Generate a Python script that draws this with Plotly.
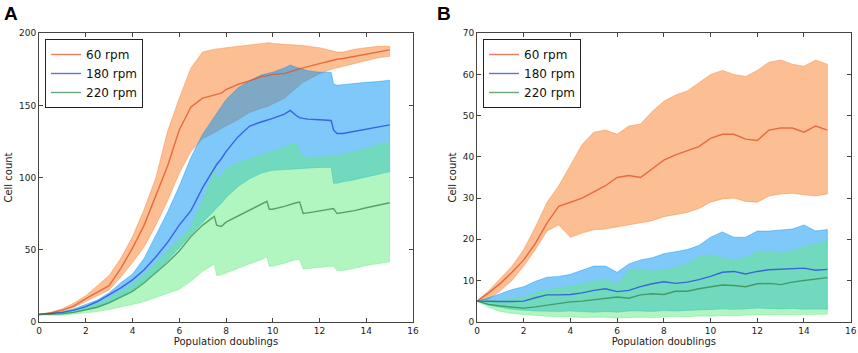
import plotly.graph_objects as go

# ---------------- Panel A data ----------------
xA = [0, 0.5, 1, 1.5, 2, 2.5, 3, 3.5, 4, 4.5, 5, 5.5, 6, 6.5, 7, 7.5, 7.6, 7.8, 8, 8.5,
      9, 9.5, 9.75, 9.85, 10, 10.5, 10.75, 11, 11.15, 11.3, 11.5, 12, 12.5, 12.6, 12.75, 13,
      13.5, 14, 14.5, 15]

a60_mean = [5, 6, 8, 11, 16, 20.5, 25, 37, 51, 67, 87, 108, 133, 149, 155, 157, 157.5, 158.5, 161, 164.5,
            167, 170, 170.5, 171, 171.5, 172, 173.5, 175, 175.5, 176, 177, 179, 181, 181.5, 182, 182.5,
            184, 186, 187.5, 188.5]
a60_hi = [5, 6.5, 9, 13, 18, 25, 32, 44, 59, 78, 100, 132, 155, 176, 187, 189, 189, 189.5, 190, 191,
          192, 193, 193.5, 193.5, 193, 192.5, 192, 192, 192, 191.5, 191, 190, 188, 187.5, 187, 187,
          189, 190, 191, 191]
a60_lo = [5, 5.5, 7.5, 10, 14, 18, 22, 31, 41, 52, 67, 84, 103, 118, 127, 131, 132, 134, 136, 140,
          145, 148, 149, 149.5, 151, 155, 158, 162, 164, 166, 168, 172, 175, 175.5, 176, 177,
          179, 181, 183, 184]

a180_mean = [5, 5.5, 6.5, 8, 10.5, 14, 18.5, 23.5, 29, 36, 45, 55, 67, 77, 93, 106, 109, 113, 118, 128,
             135.5, 138.5, 139.5, 140, 141, 144, 146.5, 143, 141.5, 141, 140.5, 140, 139.5, 133, 130.5, 130.5,
             132, 133.5, 135, 136.5]
a180_hi = [5, 5.5, 7, 9, 12, 15, 20, 27, 33, 44, 60, 76, 94, 114, 130, 142, 145, 149, 154, 162,
           167, 171, 172, 172.5, 173, 176, 178, 176.5, 175.5, 175, 174, 173, 173, 165, 164, 164.5,
           165, 166, 166.5, 167.5]
a180_lo = [5, 5.2, 5.8, 6.8, 8.3, 10.5, 13.5, 17.5, 22, 28, 35, 42.5, 51, 60, 69, 77, 79, 82, 86, 93.5,
           99, 103, 104, 104.5, 105, 106, 106, 106.5, 106.5, 106.5, 106.5, 107, 107, 96, 96, 97,
           98.5, 100, 102, 104]

a220_mean = [5, 5, 5.5, 6.5, 8, 10, 13, 17, 21, 27, 34, 41, 49, 59, 67, 73, 67, 66, 69, 73,
             77, 81, 83.5, 78, 78, 80, 81.5, 82.5, 83, 75, 75.5, 77, 78, 78.5, 75, 75.5,
             77, 79, 81, 82.5]
a220_hi = [5, 5.5, 6.5, 8, 10, 12.5, 16, 21, 26, 33, 41, 49, 57, 66, 84, 105, 99, 101, 106, 110,
           113, 116, 117, 117.5, 118, 121, 123, 124, 119, 114, 114, 114, 114.5, 115, 115, 116,
           118, 120, 122.5, 124.5]
a220_lo = [5, 4.5, 4.5, 5, 6, 7, 8.5, 10, 12, 14, 16.5, 19.5, 22.5, 28, 35, 40, 32, 32.5, 34, 37,
           40, 43, 45, 38.5, 38.5, 40.5, 42, 43, 43, 36.5, 36.5, 37.5, 38.5, 38.5, 35.5, 35.5,
           37, 39, 40.5, 41.5]

# ---------------- Panel B data ----------------
xB = [0, 0.5, 1, 1.5, 2, 2.5, 3, 3.5, 4, 4.5, 5, 5.5, 6, 6.5, 7, 7.5, 8, 8.5, 9, 9.5,
      10, 10.5, 11, 11.5, 12, 12.5, 13, 13.5, 14, 14.5, 15]

b60_mean = [5, 7, 9.3, 12, 15, 19, 24, 28, 29, 30, 31.5, 33, 35, 35.5, 35, 37, 39.2, 40.5, 41.5, 42.5,
            44.5, 45.5, 45.5, 44.3, 44, 46.5, 47, 47, 46, 47.5, 46.5]
b60_hi = [5, 7.5, 10.5, 13.5, 17.5, 23, 29, 33, 38, 43, 46, 46.5, 45.5, 47.5, 48, 51, 53.5, 55, 56, 58,
          60, 61, 60, 59.5, 61, 63, 63.5, 62.5, 62, 63.5, 62.5]
b60_lo = [5, 5.5, 7.5, 10, 13.5, 17.5, 22, 23.5, 20.5, 21.5, 22.3, 22.5, 23, 23.5, 24, 24.5, 25.5, 26, 26.5, 27.5,
          29, 29.8, 30, 29.2, 29, 30.5, 31, 31.2, 30.8, 30.5, 31]

b180_mean = [5, 4.9, 4.9, 4.9, 5, 5.8, 6.5, 6.5, 6.6, 7, 7.6, 8, 7.3, 7.6, 8.5, 9.2, 9.7, 9.3, 9.6, 10.2,
             11, 12, 12.2, 11.6, 12.2, 12.6, 12.7, 12.8, 13, 12.5, 12.7]
b180_hi = [5, 5.8, 6.8, 7.8, 8.5, 9.8, 10.8, 11, 11.5, 12.5, 13.5, 13.5, 12, 14, 15, 15.5, 16.5, 17, 17.5, 18.5,
           20.5, 21.8, 20.5, 20.5, 22, 22, 22.3, 22.5, 23.5, 22, 22.4]
b180_lo = [5, 4, 3.5, 3, 2.8, 2.6, 2.5, 2.5, 2.6, 2.4, 2.3, 2.5, 2.3, 2.6, 2.6, 2.5, 2.7, 2.6, 2.7, 2.8,
           3, 3.1, 3, 3.1, 3.3, 3.2, 3.1, 3.2, 3, 3.1, 3]

b220_mean = [5, 4.2, 3.8, 3.5, 3.3, 3.6, 4, 4.3, 4.8, 5, 5.3, 5.6, 6, 5.7, 6.5, 6.8, 6.6, 7.4, 7.4, 8,
             8.4, 8.9, 8.8, 8.5, 9.2, 9.3, 9, 9.6, 10, 10.4, 10.7]
b220_hi = [5, 5.2, 5.4, 5.6, 6, 7, 7.6, 8.2, 8.6, 9.2, 9.8, 10.3, 9, 12.5, 12.8, 12.3, 12.5, 13.2, 14, 15.8,
           16.2, 15.5, 14.9, 15.6, 16.8, 17.2, 16.6, 17.3, 18.2, 18.8, 19.5]
b220_lo = [5, 3.5, 2.5, 2, 1.8, 1.5, 1.3, 1.2, 1.2, 1, 1, 1.1, 0.9, 1, 1.1, 1, 1.2, 1.3, 1.2, 1.4,
           1.3, 1.5, 1.4, 1.6, 1.7, 1.8, 1.7, 1.8, 1.7, 1.8, 1.8]

names = ["60 rpm", "180 rpm", "220 rpm"]
fills = ["rgba(250,125,40,0.5)", "rgba(0,145,245,0.5)", "rgba(100,235,130,0.5)"]
lines = ["rgba(225,75,30,0.72)", "rgba(30,60,220,0.72)", "rgba(50,130,70,0.72)"]

W, H = 858, 353
FONT = "DejaVu Sans"

fig = go.Figure()


def add_panel(x, series, xa, ya, legend):
    for (mean, lo, hi), fc in zip(series, fills):
        fig.add_trace(go.Scatter(
            x=list(x) + list(x)[::-1], y=list(hi) + list(lo)[::-1],
            fill="toself", fillcolor=fc, mode="lines",
            line=dict(color=fc, width=0.8), showlegend=False, hoverinfo="skip",
            xaxis=xa, yaxis=ya))
    for (mean, lo, hi), lc, nm in zip(series, lines, names):
        fig.add_trace(go.Scatter(
            x=x, y=mean, mode="lines", name=nm, line=dict(color=lc, width=1.4),
            xaxis=xa, yaxis=ya, legend=legend))


add_panel(xA, [(a60_mean, a60_lo, a60_hi), (a180_mean, a180_lo, a180_hi),
               (a220_mean, a220_lo, a220_hi)], "x", "y", "legend")
add_panel(xB, [(b60_mean, b60_lo, b60_hi), (b180_mean, b180_lo, b180_hi),
               (b220_mean, b220_lo, b220_hi)], "x2", "y2", "legend2")

ydom = [31.3 / H, 319.7 / H]
axis_common = dict(showline=True, linecolor="#444", linewidth=1, mirror="ticks",
                   ticks="inside", ticklen=4, tickcolor="#444", showgrid=False,
                   zeroline=False, automargin=False,
                   tickfont=dict(family=FONT, size=9, color="#222"))

legend_common = dict(xanchor="left", yanchor="top", bordercolor="#222", borderwidth=1,
                     bgcolor="white", font=dict(family=FONT, size=12, color="#111"),
                     tracegroupgap=0, itemwidth=30)

fig.update_layout(
    width=W, height=H, margin=dict(l=0, r=0, t=0, b=0, autoexpand=False),
    paper_bgcolor="white", plot_bgcolor="white",
    font=dict(family=FONT, color="#222"),
    hovermode=False,
    xaxis=dict(domain=[39 / W, 413 / W], range=[0, 16], dtick=2, anchor="y",
               title=dict(text="Population doublings", font=dict(size=10), standoff=2),
               **axis_common),
    yaxis=dict(domain=ydom, range=[0, 200], dtick=50, anchor="x",
               title=dict(text="Cell count", font=dict(size=10), standoff=4),
               **axis_common),
    xaxis2=dict(domain=[477 / W, 850.7 / W], range=[0, 16], dtick=2, anchor="y2",
                title=dict(text="Population doublings", font=dict(size=10), standoff=2),
                **axis_common),
    yaxis2=dict(domain=ydom, range=[0, 70], dtick=10, anchor="x2",
                title=dict(text="Cell count", font=dict(size=10), standoff=4),
                **axis_common),
    legend=dict(x=45 / W, y=1 - 39 / H, **legend_common),
    legend2=dict(x=483 / W, y=1 - 39 / H, **legend_common),
    annotations=[
        dict(text="<b>A</b>", x=2 / W, y=1 - 1 / H, xref="paper", yref="paper",
             xanchor="left", yanchor="top", showarrow=False,
             font=dict(family="Liberation Sans", size=19, color="black")),
        dict(text="<b>B</b>", x=435 / W, y=1 - 1 / H, xref="paper", yref="paper",
             xanchor="left", yanchor="top", showarrow=False,
             font=dict(family="Liberation Sans", size=19, color="black")),
    ],
)

fig.write_html("out.html", config={"displayModeBar": False},
               post_script="document.body.style.margin='0';")
